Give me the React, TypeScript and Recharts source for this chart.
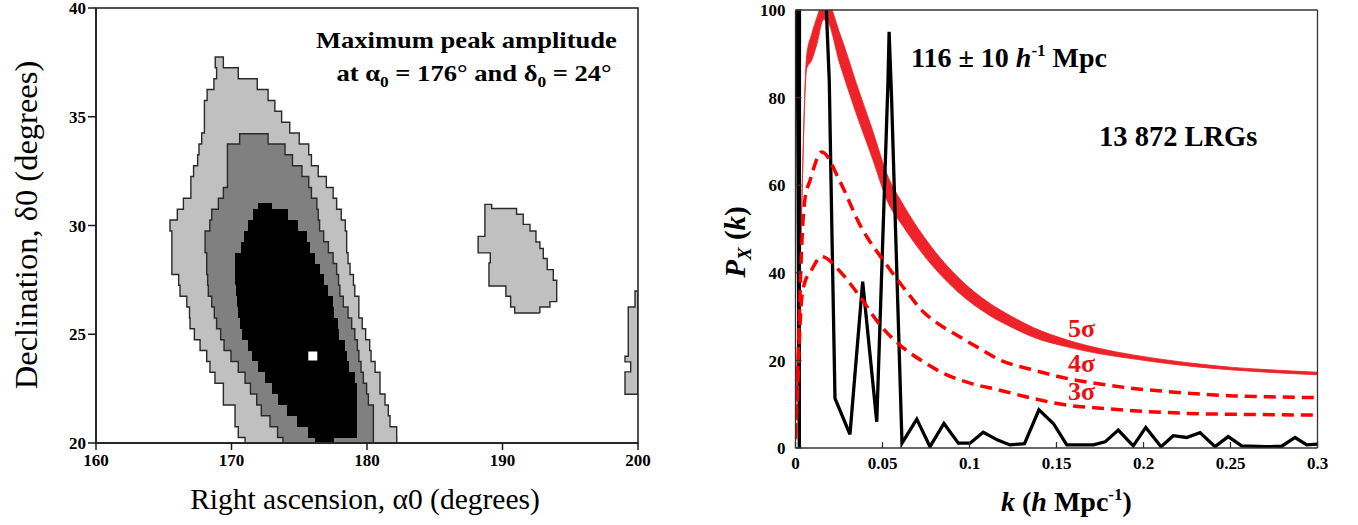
import React from 'react';
import { ComposedChart, XAxis, YAxis, ReferenceArea, Scatter, Line, Area } from 'recharts';

// ---------- Left panel: significance map (rows: [decLo, decHi, raLeft, raRight]) ----------
const LIGHT_ROWS: number[][] = [
  [20.0, 20.25, 171.0, 182.2],
  [20.25, 20.75, 170.5, 182.19],
  [20.75, 21.25, 170.26, 181.7],
  [21.25, 21.75, 170.26, 181.57],
  [21.75, 22.25, 169.4, 181.33],
  [22.25, 22.75, 169.4, 180.96],
  [22.75, 23.25, 168.78, 180.96],
  [23.25, 23.75, 168.41, 180.6],
  [23.75, 24.25, 168.17, 180.3],
  [24.25, 24.75, 167.68, 180.2],
  [24.75, 25.25, 167.26, 179.9],
  [25.25, 25.75, 166.94, 179.65],
  [25.75, 26.25, 166.9, 179.4],
  [26.25, 26.75, 166.7, 179.4],
  [26.75, 27.25, 166.2, 179.1],
  [27.25, 27.75, 166.1, 179.0],
  [27.75, 28.25, 165.6, 178.75],
  [28.25, 28.75, 165.6, 178.6],
  [28.75, 29.25, 165.6, 178.5],
  [29.25, 29.75, 165.6, 178.5],
  [29.75, 30.25, 165.46, 178.4],
  [30.25, 30.75, 166.0, 178.1],
  [30.75, 31.25, 166.45, 177.76],
  [31.25, 31.75, 167.0, 177.5],
  [31.75, 32.25, 167.0, 177.0],
  [32.25, 32.75, 167.2, 176.4],
  [32.75, 33.25, 167.5, 175.9],
  [33.25, 33.75, 167.6, 175.7],
  [33.75, 34.25, 167.8, 175.0],
  [34.25, 34.75, 168.0, 174.3],
  [34.75, 35.25, 168.0, 173.7],
  [35.25, 35.75, 168.0, 173.2],
  [35.75, 36.25, 168.2, 172.7],
  [36.25, 36.75, 168.7, 171.9],
  [36.75, 37.25, 168.9, 170.5],
  [37.25, 37.75, 168.8, 169.4],
];

const MID_ROWS: number[][] = [
  [20.0, 20.25, 173.8, 180.47],
  [20.25, 20.75, 173.4, 180.47],
  [20.75, 21.25, 172.84, 180.47],
  [21.25, 21.75, 172.2, 180.47],
  [21.75, 22.25, 171.86, 180.1],
  [22.25, 22.75, 171.4, 179.97],
  [22.75, 23.25, 171.0, 179.73],
  [23.25, 23.75, 170.5, 179.56],
  [23.75, 24.25, 169.96, 179.4],
  [24.25, 24.75, 169.45, 179.29],
  [24.75, 25.25, 169.2, 179.1],
  [25.25, 25.75, 168.9, 178.87],
  [25.75, 26.25, 168.73, 178.6],
  [26.25, 26.75, 168.54, 178.25],
  [26.75, 27.25, 168.29, 178.0],
  [27.25, 27.75, 168.24, 177.9],
  [27.75, 28.25, 168.17, 177.76],
  [28.25, 28.75, 168.17, 177.5],
  [28.75, 29.25, 168.05, 177.15],
  [29.25, 29.75, 168.05, 176.8],
  [29.75, 30.25, 168.4, 176.5],
  [30.25, 30.75, 168.54, 176.4],
  [30.75, 31.25, 169.03, 176.3],
  [31.25, 31.75, 169.4, 175.9],
  [31.75, 32.25, 169.7, 175.7],
  [32.25, 32.75, 169.7, 175.2],
  [32.75, 33.25, 169.7, 174.5],
  [33.25, 33.75, 169.7, 173.95],
  [33.75, 34.22, 170.6, 172.7],
];

const CORE_ROWS: number[][] = [
  [20.0, 20.25, 176.16, 177.6],
  [20.25, 20.75, 175.67, 179.24],
  [20.75, 21.25, 174.81, 179.24],
  [21.25, 21.75, 174.07, 179.24],
  [21.75, 22.25, 173.46, 179.24],
  [22.25, 22.75, 172.96, 179.24],
  [22.75, 23.25, 172.47, 179.1],
  [23.25, 23.75, 171.93, 178.67],
  [23.75, 24.25, 171.54, 178.5],
  [24.25, 24.75, 171.2, 178.38],
  [24.75, 25.25, 170.8, 177.93],
  [25.25, 25.75, 170.65, 177.84],
  [25.75, 26.25, 170.45, 177.6],
  [26.25, 26.75, 170.38, 177.5],
  [26.75, 27.25, 170.3, 177.15],
  [27.25, 27.75, 170.26, 176.8],
  [27.75, 28.25, 170.26, 176.53],
  [28.25, 28.75, 170.26, 176.16],
  [28.75, 29.25, 170.7, 175.8],
  [29.25, 29.75, 170.95, 175.55],
  [29.75, 30.25, 171.2, 174.9],
  [30.25, 30.75, 171.6, 174.2],
  [30.75, 31.05, 171.98, 172.96],
];

const ISLAND_ROWS: number[][] = [
  [25.98, 26.25, 190.9, 192.76],
  [26.25, 26.5, 190.6, 193.5],
  [26.5, 26.75, 190.6, 194.0],
  [26.75, 27.22, 190.25, 194.0],
  [27.22, 27.48, 189.0, 194.0],
  [27.48, 27.97, 189.0, 193.75],
  [27.97, 28.28, 189.0, 193.3],
  [28.28, 28.48, 189.1, 193.3],
  [28.48, 28.74, 189.1, 193.01],
  [28.74, 28.94, 188.2, 193.01],
  [28.94, 29.24, 188.2, 192.76],
  [29.24, 29.5, 188.2, 192.47],
  [29.5, 29.75, 188.7, 192.47],
  [29.75, 30.05, 188.7, 192.03],
  [30.05, 30.52, 188.7, 191.53],
  [30.52, 30.78, 188.7, 191.04],
  [30.78, 30.97, 188.7, 189.2],
];

const EDGE_ROWS: number[][] = [
  [22.24, 23.27, 199.04, 200],
  [23.27, 23.73, 199.46, 200],
  [23.73, 23.99, 199.04, 200],
  [23.99, 26.25, 199.28, 200],
  [26.25, 26.99, 199.78, 200],
];

const PEAK = [{ ra: 176, dec: 24 }];
const RA_TICKS = [160, 170, 180, 190, 200];
const DEC_TICKS = [20, 25, 30, 35, 40];

// ---------- Right panel: periodogram ----------
const K_TICKS = [0, 0.05, 0.1, 0.15, 0.2, 0.25, 0.3];
const P_TICKS = [0, 20, 40, 60, 80, 100];

const SPEC_K = [0, 0.0003, 0.0022, 0.0025, 0.0172, 0.0194, 0.0209, 0.0227, 0.0313, 0.0386, 0.0467, 0.0531, 0.0538, 0.0552, 0.0612, 0.0697, 0.0773, 0.0853, 0.0936, 0.1003, 0.1079, 0.1162, 0.1233, 0.1316, 0.1399, 0.1482, 0.1559, 0.1712, 0.1779, 0.1855, 0.1941, 0.2013, 0.2101, 0.2171, 0.2248, 0.2325, 0.2411, 0.2487, 0.2564, 0.2708, 0.2794, 0.2871, 0.2938, 0.3];
const SPEC_P = [84, 160, 0, 400, 105, 84, 50, 11.3, 3.1, 38, 6, 83, 95, 80, 1.1, 6.6, 0.3, 5.6, 1.1, 1.1, 3.6, 1.8, 0.7, 1.0, 8.7, 5.6, 0.7, 0.7, 1.4, 4.1, 0.5, 4.7, 0.3, 2.8, 2.4, 3.5, 0.3, 2.6, 0.5, 0.3, 0.4, 2.4, 0.7, 0.9];

const S5_K = [0, 0.0026, 0.0064, 0.0093, 0.0125, 0.016, 0.0175, 0.0256, 0.0352, 0.0447, 0.0524, 0.062, 0.0734, 0.0926, 0.1118, 0.1233, 0.1367, 0.1559, 0.175, 0.1941, 0.2133, 0.2325, 0.2516, 0.2708, 0.3];
const S5_LO = [7.7, 40.7, 86.5, 88.5, 92.5, 97.75, 97.75, 87.5, 76.0, 65.55, 56.7, 50.5, 44.15, 35.9, 30.2, 27.75, 25.3, 23.1, 21.5, 20.35, 19.3, 18.45, 17.8, 17.3, 16.7];
const S5_HI = [8.3, 41.3, 89.5, 94.5, 98.5, 102.25, 102.25, 94.5, 83.0, 72.05, 62.7, 55.5, 48.45, 39.3, 33.0, 30.25, 27.5, 24.7, 22.7, 21.25, 20.1, 19.15, 18.4, 17.9, 17.3];

const S4_K = [0, 0.001, 0.002, 0.003, 0.0042, 0.0055, 0.0083, 0.0151, 0.0256, 0.0371, 0.0524, 0.0639, 0.0734, 0.083, 0.0926, 0.1041, 0.1175, 0.1367, 0.1559, 0.175, 0.1941, 0.2133, 0.2325, 0.2516, 0.2708, 0.3];
const S4_P = [3, 14, 27, 40, 51, 57, 61, 67.6, 60.8, 50.9, 41.8, 35.7, 31.1, 28.1, 25.8, 23.1, 20.1, 17.8, 15.9, 14.6, 13.6, 12.9, 12.3, 11.9, 11.7, 11.5];

const S3_K = [0, 0.001, 0.002, 0.0033, 0.0055, 0.0083, 0.0151, 0.0256, 0.0371, 0.0486, 0.06, 0.0734, 0.0869, 0.1003, 0.1175, 0.1367, 0.1559, 0.175, 0.1941, 0.2133, 0.2325, 0.2516, 0.3];
const S3_P = [2, 11, 22, 33, 38, 40, 43.7, 40.3, 34.5, 28.1, 23.5, 19.7, 16.7, 14.8, 13.2, 11.3, 9.8, 9.1, 8.5, 8.1, 7.8, 7.7, 7.5];

// ---------- helpers ----------
const SERIF = 'Liberation Serif, DejaVu Serif, serif';

function outline(rows: number[][]) {
  const pts: { ra: number; dec: number }[] = [];
  rows.forEach(([lo, hi, , r]) => {
    pts.push({ ra: r, dec: lo }, { ra: r, dec: hi });
  });
  [...rows].reverse().forEach(([lo, hi, l]) => {
    pts.push({ ra: l, dec: hi }, { ra: l, dec: lo });
  });
  pts.push(pts[0]);
  return pts;
}

const cellShape = (fill: string) => (p: any) => (
  <rect x={p.x} y={p.y} width={p.width} height={p.height} fill={fill} shapeRendering="crispEdges" />
);

function fills(rows: number[][], fill: string, key: string) {
  return rows.map(([lo, hi, l, r], i) => (
    <ReferenceArea
      key={`${key}-${i}`}
      x1={l}
      x2={r}
      y1={lo}
      y2={hi}
      ifOverflow="visible"
      shape={cellShape(fill)}
    />
  ));
}

const noDot = () => <g />;

const xTick = (p: any) => (
  <text x={p.x} y={p.y} dy="0.71em" textAnchor="middle" fontFamily={SERIF} fontWeight={700} fontSize={17} fill="#000">
    {String(p.payload.value)}
  </text>
);
const yTick = (p: any) => (
  <text x={p.x} y={p.y} dy="0.36em" textAnchor="end" fontFamily={SERIF} fontWeight={700} fontSize={17} fill="#000">
    {String(p.payload.value)}
  </text>
);

function LeftPanel() {
  const lineStyle = { stroke: '#2a2a2a', strokeWidth: 1.4 };
  return (
    <ComposedChart width={660} height={525} margin={{ top: 8, right: 22, bottom: 52, left: 36 }}>
      <XAxis
        dataKey="ra"
        type="number"
        domain={[160, 200]}
        ticks={RA_TICKS}
        allowDataOverflow
        interval={0}
        height={30}
        tick={xTick}
        tickSize={7}
        tickMargin={4}
        axisLine={{ stroke: '#1a1a1a', strokeWidth: 1.5 }}
        tickLine={{ stroke: '#1a1a1a', strokeWidth: 1.5 }}
      />
      <YAxis
        dataKey="dec"
        type="number"
        domain={[20, 40]}
        ticks={DEC_TICKS}
        allowDataOverflow
        interval={0}
        width={60}
        tick={yTick}
        tickSize={8}
        tickMargin={2}
        axisLine={{ stroke: '#1a1a1a', strokeWidth: 1.5 }}
        tickLine={{ stroke: '#1a1a1a', strokeWidth: 1.5 }}
      />
      {fills(LIGHT_ROWS, '#c0c0c0', 'l')}
      {fills(ISLAND_ROWS, '#c0c0c0', 'i')}
      {fills(EDGE_ROWS, '#c0c0c0', 'e')}
      {fills(MID_ROWS, '#808080', 'm')}
      {fills(CORE_ROWS, '#000000', 'c')}
      <Scatter data={outline(LIGHT_ROWS)} shape={noDot} line={lineStyle} lineType="joint" isAnimationActive={false} />
      <Scatter data={outline(MID_ROWS)} shape={noDot} line={lineStyle} lineType="joint" isAnimationActive={false} />
      <Scatter data={outline(ISLAND_ROWS)} shape={noDot} line={lineStyle} lineType="joint" isAnimationActive={false} />
      <Scatter data={outline(EDGE_ROWS)} shape={noDot} line={lineStyle} lineType="joint" isAnimationActive={false} />
      <Scatter
        data={PEAK}
        isAnimationActive={false}
        shape={(p: any) => <rect x={p.cx - 4.5} y={p.cy - 4.5} width={9} height={9} fill="#ffffff" />}
      />
      <ReferenceArea
        x1={160}
        x2={200}
        y1={20}
        y2={40}
        ifOverflow="visible"
        shape={(p: any) => (
          <rect x={p.x} y={p.y} width={p.width} height={p.height} fill="none" stroke="#1a1a1a" strokeWidth={1.5} />
        )}
      />
    </ComposedChart>
  );
}

function RightPanel() {
  const spec = SPEC_K.map((k, i) => ({ k, p: SPEC_P[i] }));
  const s5 = S5_K.map((k, i) => ({ k, band: [S5_LO[i], S5_HI[i]] }));
  const s4 = S4_K.map((k, i) => ({ k, p: S4_P[i] }));
  const s3 = S3_K.map((k, i) => ({ k, p: S3_P[i] }));
  const axisStyle = { stroke: '#333', strokeWidth: 1.3 };
  return (
    <ComposedChart width={658} height={525} margin={{ top: 9, right: 39.5, bottom: 47, left: 35.5 }}>
      <XAxis
        dataKey="k"
        type="number"
        domain={[0, 0.3]}
        ticks={K_TICKS}
        allowDataOverflow
        interval={0}
        height={30}
        tick={xTick}
        tickSize={-6}
        tickMargin={15}
        axisLine={axisStyle}
        tickLine={axisStyle}
      />
      <XAxis
        xAxisId="top"
        orientation="top"
        dataKey="k"
        type="number"
        domain={[0, 0.3]}
        ticks={K_TICKS}
        allowDataOverflow
        interval={0}
        height={1}
        tick={false}
        tickSize={-6}
        axisLine={axisStyle}
        tickLine={axisStyle}
      />
      <YAxis
        type="number"
        domain={[0, 100]}
        ticks={P_TICKS}
        allowDataOverflow
        interval={0}
        width={60}
        tick={yTick}
        tickSize={-6}
        tickMargin={16}
        axisLine={axisStyle}
        tickLine={axisStyle}
      />
      <YAxis
        yAxisId="right"
        orientation="right"
        type="number"
        domain={[0, 100]}
        ticks={P_TICKS}
        allowDataOverflow
        interval={0}
        width={1}
        tick={false}
        tickSize={-6}
        axisLine={axisStyle}
        tickLine={axisStyle}
      />
      <Line data={spec} dataKey="p" type="linear" stroke="#000" strokeWidth={3.3} dot={false} isAnimationActive={false} />
      <Area
        data={s5}
        dataKey="band"
        type="monotone"
        stroke="#ee2229"
        strokeWidth={0.8}
        fill="#ee2229"
        fillOpacity={1}
        dot={false}
        activeDot={false}
        isAnimationActive={false}
      />
      <Line data={s4} dataKey="p" type="monotone" stroke="#ff0000" strokeWidth={3.5} strokeDasharray="12 7" dot={false} isAnimationActive={false} />
      <Line data={s3} dataKey="p" type="monotone" stroke="#ff0000" strokeWidth={3.5} strokeDasharray="12 7" dot={false} isAnimationActive={false} />
    </ComposedChart>
  );
}

function Overlay() {
  return (
    <svg width={1358} height={525} style={{ position: 'absolute', left: 0, top: 0, pointerEvents: 'none' }}>
      {/* left panel titles */}
      <text transform="translate(37,225) rotate(-90)" textAnchor="middle" fontFamily={SERIF} fontSize={32.5} fill="#000">
        Declination, δ0 (degrees)
      </text>
      <text x={365} y={509} textAnchor="middle" fontFamily={SERIF} fontSize={29.5} fill="#000">
        Right ascension, α0 (degrees)
      </text>
      <g transform="translate(316,47.5) scale(1.155,1)">
        <text x={0} y={0} fontFamily={SERIF} fontWeight={700} fontSize={23} fill="#000">
          Maximum peak amplitude
        </text>
      </g>
      <g transform="translate(336.5,81) scale(1.155,1)">
        <text x={0} y={0} fontFamily={SERIF} fontWeight={700} fontSize={23} fill="#000">
          at α<tspan fontSize={15} dy={6}>0</tspan>
          <tspan dy={-6}> = 176° and δ</tspan>
          <tspan fontSize={15} dy={6}>0</tspan>
          <tspan dy={-6}> = 24°</tspan>
        </text>
      </g>
      {/* right panel titles */}
      <text transform="translate(745,242) rotate(-90)" textAnchor="middle" fontFamily={SERIF} fontWeight={700} fontSize={29} fill="#000">
        <tspan fontStyle="italic">P</tspan>
        <tspan fontStyle="italic" fontSize={19} dy={6}>X</tspan>
        <tspan dy={-6}> (</tspan>
        <tspan fontStyle="italic">k</tspan>
        <tspan>)</tspan>
      </text>
      <text x={1001} y={511} fontFamily={SERIF} fontWeight={700} fontSize={28} fill="#000">
        <tspan fontStyle="italic">k</tspan>
        <tspan> (</tspan>
        <tspan fontStyle="italic">h</tspan>
        <tspan> Mpc</tspan>
        <tspan fontSize={17} dy={-11}>-1</tspan>
        <tspan dy={11}>)</tspan>
      </text>
      <text x={911} y={67} fontFamily={SERIF} fontWeight={700} fontSize={28} fill="#000">
        <tspan>116 ± 10 </tspan>
        <tspan fontStyle="italic">h</tspan>
        <tspan fontSize={17} dy={-11}>-1</tspan>
        <tspan dy={11}> Mpc</tspan>
      </text>
      <text x={1099} y={146} fontFamily={SERIF} fontWeight={700} fontSize={28.5} fill="#000">
        13 872 LRGs
      </text>
      <text x={1068} y={337} fontFamily={SERIF} fontWeight={700} fontSize={26} fill="#ee1111">
        5σ
      </text>
      <text x={1068} y={372} fontFamily={SERIF} fontWeight={700} fontSize={26} fill="#ee1111">
        4σ
      </text>
      <text x={1068} y={400} fontFamily={SERIF} fontWeight={700} fontSize={26} fill="#ee1111">
        3σ
      </text>
    </svg>
  );
}

export default function App() {
  return (
    <div style={{ position: 'absolute', left: 0, top: 0, width: 1358, height: 525, background: '#fff', fontFamily: SERIF }}>
      <div style={{ position: 'absolute', left: 0, top: 0 }}>
        <LeftPanel />
      </div>
      <div style={{ position: 'absolute', left: 700, top: 0 }}>
        <RightPanel />
      </div>
      <Overlay />
    </div>
  );
}
